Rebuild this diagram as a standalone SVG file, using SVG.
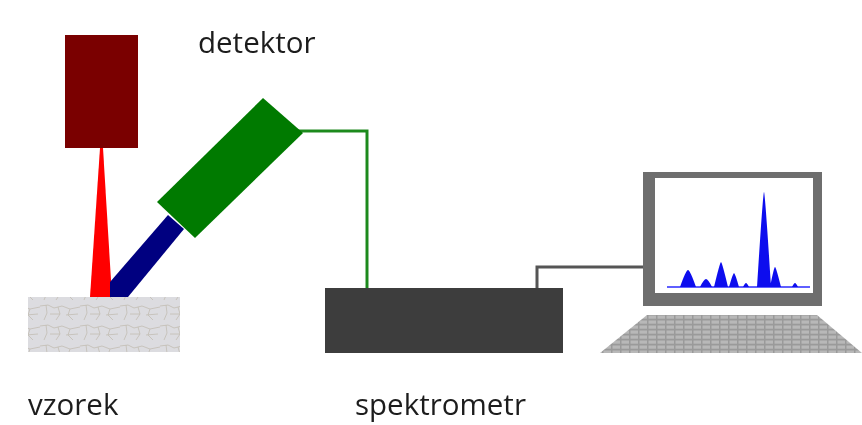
<svg xmlns="http://www.w3.org/2000/svg" width="862" height="425" viewBox="0 0 862 425">
  <defs>
    <style>
      .label { font-family: "Open Sans", "Noto Sans", "Liberation Sans", sans-serif; font-size: 29.5px; fill: #1c1c1c; }
      .wire { fill: none; stroke-width: 3; stroke-linejoin: miter; }
    </style>
    <!-- cracked stone texture for the sample -->
    <pattern id="stone" width="40" height="20" patternUnits="userSpaceOnUse">
      <rect width="40" height="20" fill="#dcdce0"/>
      <path d="M0 6 L8 5 L14 8 L22 6 L30 9 L40 7 M6 5 L7 13 L4 20 M18 7 L20 14 L16 20 M30 9 L28 15 L33 20 M10 14 L20 14 M26 15 L38 14" fill="none" stroke="#c2bdb2" stroke-width="0.8"/>
    </pattern>
    <!-- keyboard keys -->
    <pattern id="keys" width="9" height="5" patternUnits="userSpaceOnUse">
      <rect width="9" height="5" fill="#9a9a9a"/>
      <rect x="0.5" y="0.5" width="7.5" height="3.2" fill="#b8b8b8"/>
    </pattern>
    <filter id="soft" x="-5%" y="-5%" width="110%" height="110%">
      <feGaussianBlur stdDeviation="0.6"/>
    </filter>
  </defs>

  <rect width="862" height="425" fill="#ffffff"/>

  <g filter="url(#soft)">
    <!-- connectors -->
    <g id="connectors">
      <polyline class="wire" stroke="#1e8a1e" points="298,131 367,131 367,290"/>
      <polyline class="wire" stroke="#555555" points="537,290 537,267 646,267"/>
    </g>

    <!-- source and beam -->
    <g id="source">
      <rect x="65" y="35" width="73" height="113" fill="#7a0000"/>
      <polygon points="100,148 103,148 112,297 90,297" fill="#ff0000"/>
    </g>

    <!-- detector with snout -->
    <g id="detektor">
      <polygon points="110,297 110,282 168,215 184,229 128,297" fill="#000080"/>
      <polygon points="263,98 303,133 195,238 157,202" fill="#007a00"/>
      <text class="label" x="198" y="53">detektor</text>
    </g>

    <!-- sample -->
    <g id="vzorek">
      <rect x="28" y="297" width="152" height="55" fill="url(#stone)"/>
      <text class="label" x="28" y="415">vzorek</text>
    </g>

    <!-- spectrometer box -->
    <g id="spektrometr">
      <rect x="325" y="288" width="238" height="65" fill="#3d3d3d"/>
      <text class="label" x="355" y="415">spektrometr</text>
    </g>

    <!-- computer with spectrum -->
    <g id="pocitac">
      <rect x="643" y="172" width="179" height="134" fill="#6e6e6e"/>
      <rect x="655" y="178" width="158" height="115" fill="#ffffff"/>
      <line x1="667" y1="287" x2="810" y2="287" stroke="#2a2aff" stroke-width="1.5"/>
      <path d="M680 287 Q686 270 688 270 Q690 270 696 287 Z
               M700 287 Q704 279 706 279 Q708 279 712 287 Z
               M714 287 Q720 262 721 262 Q722 262 728 287 Z
               M729 287 Q733 273 734 273 Q735 273 739 287 Z
               M743 287 Q745 283 746 283 Q747 283 749 287 Z
               M757 287 Q763 192 764 192 Q765 192 771 287 Z
               M770 287 Q774 267 775 267 Q776 267 781 287 Z
               M792 287 Q794 283 795 283 Q796 283 798 287 Z" fill="#1010ee"/>
      <polygon points="647,315 817,315 862,353 600,353" fill="url(#keys)"/>
    </g>
  </g>
</svg>
